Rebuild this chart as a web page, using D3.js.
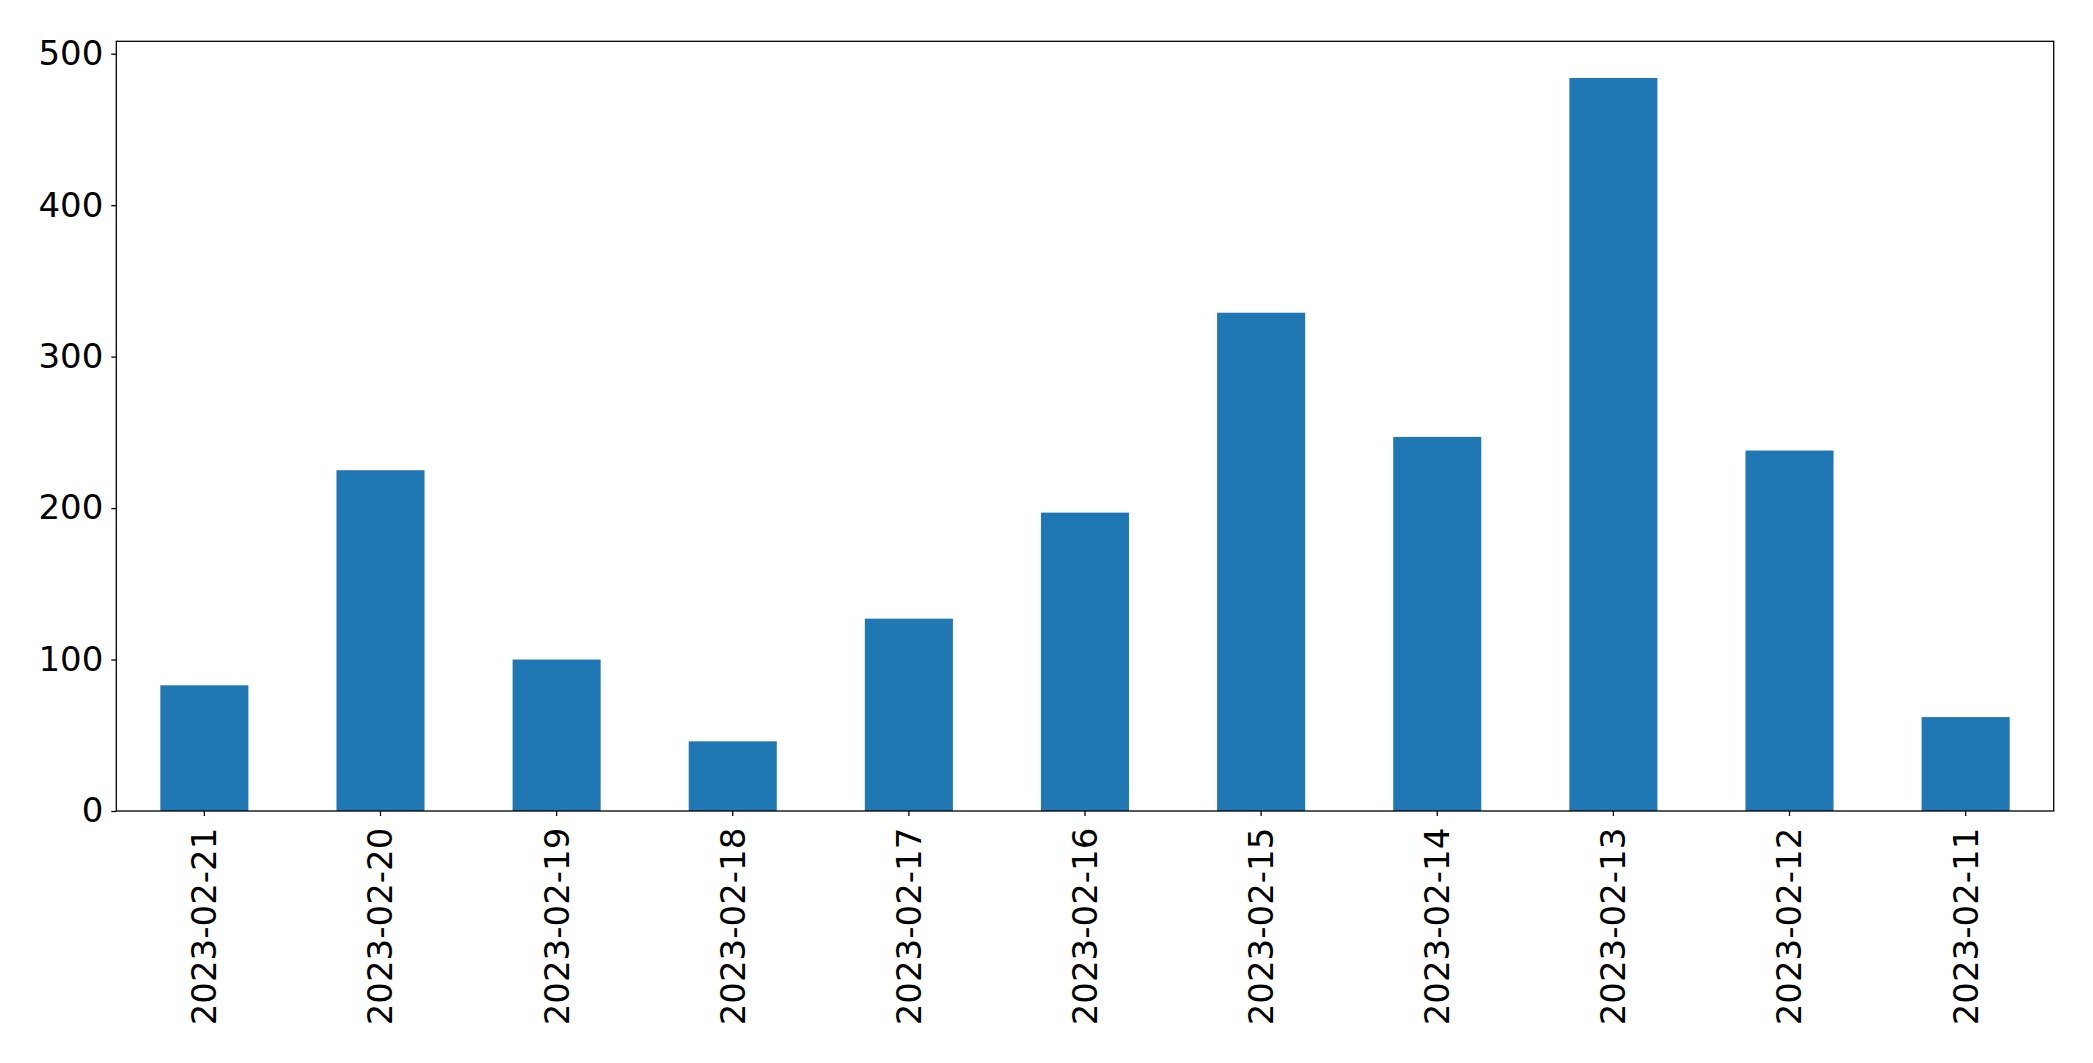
<!DOCTYPE html>
<html>
<head>
<meta charset="utf-8">
<script src="https://cdn.jsdelivr.net/npm/d3@7"></script>
<style>
  body { margin: 0; background: #fff; }
  svg { display: block; }
  text { font-family: "DejaVu Sans", sans-serif; }
</style>
</head>
<body>
<svg width="2093" height="1063"></svg>
<script>
"use strict";

// 날짜(카테고리)와 값
const dates = ["2023-02-21", "2023-02-20", "2023-02-19", "2023-02-18", "2023-02-17",
  "2023-02-16", "2023-02-15", "2023-02-14", "2023-02-13", "2023-02-12", "2023-02-11"];
const counts = [83, 225, 100, 46, 127, 197, 329, 247, 484, 238, 62];
const yTicks = [0, 100, 200, 300, 400, 500];

// 플롯 영역 (window.top 과 이름 충돌 피하려고 plot* 이름 사용)
const plotLeft = 116.3, plotRight = 2053.7, plotTop = 41.3, plotBottom = 811;

const svg = d3.select("svg");

const x = d3.scaleBand()
  .domain(dates)
  .range([plotLeft, plotRight])
  .paddingInner(0.5)
  .paddingOuter(0.25);

const y = d3.scaleLinear()
  .domain([0, d3.max(counts) * 1.05])
  .range([plotBottom, plotTop]);

// 막대
svg.append("g")
  .selectAll("rect")
  .data(dates)
  .join("rect")
  .attr("x", d => x(d))
  .attr("width", x.bandwidth())
  .attr("y", (d, i) => y(counts[i]))
  .attr("height", (d, i) => plotBottom - y(counts[i]))
  .style("fill", "#1f77b4");

// y축
const yAxis = svg.append("g")
  .attr("transform", `translate(${plotLeft},0)`)
  .call(d3.axisLeft(y).tickValues(yTicks).tickSize(5).tickPadding(8).tickFormat(d3.format("d")));
yAxis.select(".domain").remove();
yAxis.selectAll("line").style("stroke", "#000").style("stroke-width", 1.3);
yAxis.selectAll("text").style("font-size", "34px").style("fill", "#000");

// x축 (라벨 90도 회전)
const xAxis = svg.append("g")
  .attr("transform", `translate(0,${plotBottom})`)
  .call(d3.axisBottom(x).tickSize(5).tickPadding(0));
xAxis.select(".domain").remove();
xAxis.selectAll("line").style("stroke", "#000").style("stroke-width", 1.3);
xAxis.selectAll("text")
  .style("font-size", "34px")
  .style("fill", "#000")
  .attr("transform", "rotate(-90)")
  .attr("x", -16.7)
  .attr("y", 0)
  .attr("dy", "0.35em")
  .attr("text-anchor", "end");

// 테두리
svg.append("rect")
  .attr("x", plotLeft)
  .attr("y", plotTop)
  .attr("width", plotRight - plotLeft)
  .attr("height", plotBottom - plotTop)
  .style("fill", "none")
  .style("stroke", "#000")
  .style("stroke-width", 1.3);
</script>
</body>
</html>
